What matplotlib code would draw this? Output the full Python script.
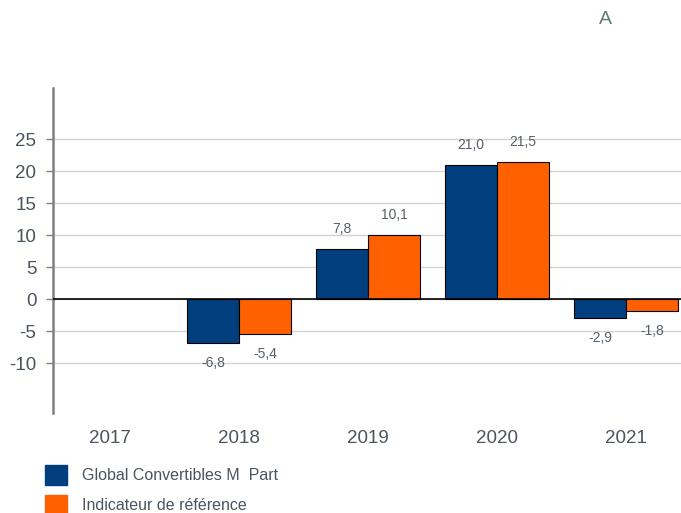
import matplotlib
matplotlib.use("Agg")
import matplotlib.pyplot as plt
import numpy as np

plt.rcParams['font.family'] = ['Liberation Sans', 'DejaVu Sans']

years = ["2017", "2018", "2019", "2020", "2021"]
fund = [np.nan, -6.8, 7.8, 21.0, -2.9]
bench = [np.nan, -5.4, 10.1, 21.5, -1.8]
series_names = ["Global Convertibles M  Part", "Indicateur de référence"]
yticks = [-10, -5, 0, 5, 10, 15, 20, 25]

W, H = 681, 513
fig = plt.figure(figsize=(W/100, H/100), dpi=100)
left, right, top, bottom = 53, 681, 88, 413
ax = fig.add_axes([left/W, 1-bottom/H, (right-left)/W, (bottom-top)/H])

blue = "#003e7e"
orange = "#ff6000"
x = np.arange(len(years))
bw = 0.403
ax.bar(x - bw/2, fund, bw, color=blue, edgecolor="black", linewidth=0.8, zorder=3)
ax.bar(x + bw/2, bench, bw, color=orange, edgecolor="black", linewidth=0.8, zorder=3)

ax.set_xlim(-0.442, 4.426)
ax.set_ylim(-17.8, 33)
ax.set_yticks(yticks)
ax.set_yticklabels([str(v) for v in yticks])
ax.grid(axis='y', color="#d4d4d4", linewidth=1, zorder=0)
ax.axhline(0, color="black", linewidth=1.2, zorder=4)
ax.set_xticks(x)
ax.set_xticklabels(years)
ax.tick_params(axis='x', length=0, pad=12, labelsize=13.5, labelcolor="#4a5560")
ax.tick_params(axis='y', length=5, width=1, color="#808080", pad=7, labelsize=13.5, labelcolor="#4a5560")
for s in ['top', 'right', 'bottom']:
    ax.spines[s].set_visible(False)
ax.spines['left'].set_color("#808080")
ax.spines['left'].set_linewidth(1.8)

def fmt(v):
    return f"{v:.1f}".replace(".", ",")

for xs, vals in ((x - bw/2, fund), (x + bw/2, bench)):
    for xi, v in zip(xs, vals):
        if np.isnan(v):
            continue
        off = 20 if v >= 0 else -20
        ax.annotate(fmt(v), (xi, v), xytext=(0, off * 0.72), textcoords='offset points',
                    ha='center', va='center', fontsize=10, color="#555f69")

# legend
for i, (name, col) in enumerate(zip(series_names, [blue, orange])):
    yc = 475 + i * 30
    fig.patches.append(plt.Rectangle((45/W, 1-(yc+10)/H), 22/W, 20/H,
                                     transform=fig.transFigure, color=col))
    fig.text(82/W, 1-yc/H, name, ha='left', va='center', fontsize=11.5, color="#4a5560")

fig.text(605/W, 1-20/H, "A", ha='center', va='center', fontsize=14, color="#5a7a78")

fig.savefig("out.png", dpi=100)
